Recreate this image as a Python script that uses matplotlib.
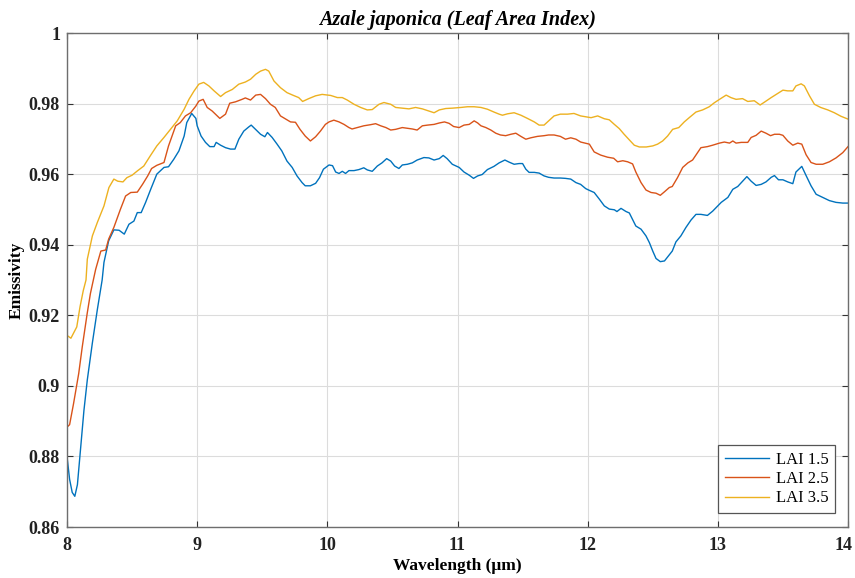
import matplotlib
matplotlib.use("Agg")
import matplotlib.pyplot as plt
from matplotlib.transforms import ScaledTranslation

# ---------------- data ----------------
wl_15 = [8.0, 8.02, 8.04, 8.06, 8.08, 8.105, 8.13, 8.156, 8.195, 8.233, 8.27, 8.284, 8.32, 8.36, 8.40, 8.44,
         8.476, 8.514, 8.54, 8.57, 8.604, 8.643, 8.69, 8.745, 8.78, 8.82, 8.86, 8.90, 8.92, 8.958, 8.99,
         9.0, 9.03, 9.064, 9.097, 9.13, 9.146, 9.18, 9.218, 9.256, 9.29, 9.32, 9.358, 9.397, 9.415, 9.448,
         9.487, 9.52, 9.54, 9.576, 9.614, 9.65, 9.69, 9.73, 9.767, 9.806, 9.83, 9.87, 9.91, 9.94, 9.97,
         10.013, 10.04, 10.064, 10.09, 10.115, 10.14, 10.166, 10.205, 10.243, 10.28, 10.307, 10.345,
         10.384, 10.42, 10.456, 10.487, 10.517, 10.55, 10.576, 10.615, 10.653, 10.69, 10.742, 10.78,
         10.82, 10.86, 10.89, 10.92, 10.96, 11.013, 11.05, 11.09, 11.123, 11.155, 11.19, 11.23, 11.28,
         11.32, 11.364, 11.397, 11.435, 11.473, 11.5, 11.525, 11.55, 11.59, 11.627, 11.665, 11.70,
         11.742, 11.79, 11.83, 11.87, 11.91, 11.946, 11.985, 12.013, 12.05, 12.09, 12.128, 12.166,
         12.205, 12.225, 12.256, 12.295, 12.32, 12.37, 12.41, 12.448, 12.474, 12.5, 12.525, 12.558,
         12.59, 12.627, 12.65, 12.678, 12.716, 12.755, 12.794, 12.832, 12.87, 12.92, 12.96, 13.026,
         13.077, 13.115, 13.153, 13.19, 13.223, 13.256, 13.294, 13.333, 13.37, 13.41, 13.435, 13.466,
         13.5, 13.537, 13.576, 13.6, 13.645, 13.678, 13.716, 13.755, 13.806, 13.857, 13.908, 13.96, 14.0]
eps_15 = [0.8800, 0.8735, 0.8698, 0.8687, 0.8720, 0.8826, 0.8930, 0.9017, 0.9122, 0.9216, 0.9300, 0.9350,
          0.9411, 0.9442, 0.9441, 0.9430, 0.9458, 0.9467, 0.9491, 0.9491, 0.9520, 0.9557, 0.9600, 0.9619,
          0.9621, 0.9642, 0.9666, 0.9708, 0.9746, 0.9772, 0.9758, 0.9737, 0.9708, 0.9690, 0.9678, 0.9678,
          0.9690, 0.9682, 0.9675, 0.9671, 0.9671, 0.9699, 0.9722, 0.9734, 0.9739, 0.9727, 0.9713, 0.9706,
          0.9718, 0.9704, 0.9685, 0.9666, 0.9637, 0.9619, 0.9595, 0.9576, 0.9567, 0.9567, 0.9574, 0.9590,
          0.9614, 0.9626, 0.9624, 0.9606, 0.9602, 0.9608, 0.9602, 0.9610, 0.9610, 0.9613, 0.9618, 0.9612,
          0.9608, 0.9623, 0.9632, 0.9644, 0.9637, 0.9623, 0.9616, 0.9626, 0.9628, 0.9632, 0.9640, 0.9647,
          0.9646, 0.9640, 0.9644, 0.9653, 0.9644, 0.9628, 0.9619, 0.9606, 0.9597, 0.9588, 0.9595, 0.9599,
          0.9613, 0.9622, 0.9632, 0.9640, 0.9634, 0.9628, 0.9630, 0.9630, 0.9614, 0.9605, 0.9605, 0.9603,
          0.9595, 0.9591, 0.9589, 0.9589, 0.9588, 0.9586, 0.9576, 0.9571, 0.9559, 0.9554, 0.9548, 0.9529,
          0.9510, 0.9501, 0.9499, 0.9494, 0.9503, 0.9494, 0.9490, 0.9453, 0.9444, 0.9425, 0.9406, 0.9382,
          0.9361, 0.9352, 0.9354, 0.9371, 0.9382, 0.9408, 0.9425, 0.9449, 0.9470, 0.9486, 0.9486, 0.9483,
          0.9495, 0.9520, 0.9534, 0.9557, 0.9565, 0.9580, 0.9593, 0.9580, 0.9568, 0.9571, 0.9578, 0.9591,
          0.9596, 0.9584, 0.9584, 0.9578, 0.9573, 0.9606, 0.9622, 0.9596, 0.9567, 0.9543, 0.9534, 0.9525,
          0.9520, 0.9518, 0.9518]

wl_25 = [8.0, 8.02, 8.05, 8.09, 8.117, 8.155, 8.18, 8.22, 8.26, 8.297, 8.32, 8.36, 8.41, 8.45, 8.49,
         8.54, 8.58, 8.62, 8.65, 8.69, 8.745, 8.78, 8.835, 8.87, 8.91, 8.95, 8.99, 9.013, 9.046, 9.077,
         9.115, 9.14, 9.174, 9.218, 9.25, 9.295, 9.345, 9.37, 9.41, 9.45, 9.487, 9.525, 9.563, 9.60,
         9.64, 9.68, 9.717, 9.755, 9.79, 9.83, 9.87, 9.91, 9.947, 9.985, 10.013, 10.05, 10.09, 10.128,
         10.166, 10.19, 10.23, 10.28, 10.33, 10.371, 10.41, 10.45, 10.487, 10.525, 10.576, 10.615,
         10.653, 10.69, 10.73, 10.77, 10.82, 10.86, 10.9, 10.935, 10.97, 11.013, 11.05, 11.09, 11.128,
         11.155, 11.18, 11.218, 11.256, 11.294, 11.33, 11.37, 11.41, 11.448, 11.487, 11.525, 11.563,
         11.614, 11.665, 11.70, 11.742, 11.79, 11.83, 11.87, 11.91, 11.946, 12.013, 12.05, 12.1,
         12.153, 12.2, 12.23, 12.27, 12.307, 12.345, 12.37, 12.41, 12.448, 12.487, 12.525, 12.558,
         12.59, 12.627, 12.65, 12.69, 12.73, 12.77, 12.806, 12.845, 12.87, 12.92, 12.96, 13.013,
         13.05, 13.09, 13.115, 13.14, 13.18, 13.23, 13.256, 13.294, 13.333, 13.37, 13.405, 13.435,
         13.473, 13.5, 13.537, 13.576, 13.614, 13.645, 13.678, 13.716, 13.755, 13.806, 13.857, 13.908,
         13.96, 14.0]
eps_25 = [0.8883, 0.8890, 0.8949, 0.9035, 0.9110, 0.9205, 0.9262, 0.9330, 0.9382, 0.9385, 0.9416, 0.9449,
          0.9500, 0.9538, 0.9548, 0.9549, 0.9571, 0.9595, 0.9616, 0.9625, 0.9633, 0.9680, 0.9737, 0.9746,
          0.9765, 0.9774, 0.9793, 0.9807, 0.9812, 0.9789, 0.9779, 0.9770, 0.9758, 0.9770, 0.9801, 0.9805,
          0.9812, 0.9816, 0.9810, 0.9824, 0.9826, 0.9814, 0.9798, 0.9789, 0.9765, 0.9756, 0.9748, 0.9747,
          0.9727, 0.9708, 0.9694, 0.9706, 0.9722, 0.9741, 0.9748, 0.9753, 0.9748, 0.9741, 0.9732, 0.9728,
          0.9732, 0.9737, 0.9740, 0.9743, 0.9737, 0.9732, 0.9725, 0.9727, 0.9732, 0.9730, 0.9728, 0.9725,
          0.9737, 0.9739, 0.9741, 0.9745, 0.9748, 0.9744, 0.9735, 0.9732, 0.9739, 0.9741, 0.9751, 0.9745,
          0.9737, 0.9732, 0.9725, 0.9716, 0.9711, 0.9709, 0.9713, 0.9716, 0.9707, 0.9699, 0.9703, 0.9707,
          0.9709, 0.9711, 0.9711, 0.9707, 0.9699, 0.9703, 0.9699, 0.9691, 0.9685, 0.9663, 0.9654, 0.9648,
          0.9645, 0.9635, 0.9638, 0.9635, 0.9629, 0.9606, 0.9576, 0.9555, 0.9548, 0.9546, 0.9540, 0.9550,
          0.9562, 0.9565, 0.9590, 0.9619, 0.9632, 0.9640, 0.9661, 0.9675, 0.9678, 0.9682, 0.9688, 0.9691,
          0.9688, 0.9694, 0.9688, 0.9690, 0.9690, 0.9704, 0.9710, 0.9722, 0.9716, 0.9709, 0.9713, 0.9713,
          0.9710, 0.9694, 0.9682, 0.9688, 0.9685, 0.9655, 0.9633, 0.9628, 0.9628, 0.9635, 0.9646, 0.9661,
          0.9678]

wl_35 = [8.0, 8.03, 8.075, 8.1, 8.125, 8.146, 8.156, 8.195, 8.233, 8.284, 8.322, 8.36, 8.39, 8.43, 8.46,
         8.50, 8.54, 8.59, 8.64, 8.69, 8.745, 8.795, 8.847, 8.90, 8.937, 8.975, 9.013, 9.05, 9.09, 9.13,
         9.18, 9.218, 9.27, 9.32, 9.37, 9.41, 9.45, 9.487, 9.525, 9.55, 9.59, 9.64, 9.69, 9.74, 9.78,
         9.81, 9.857, 9.91, 9.96, 10.026, 10.077, 10.115, 10.153, 10.205, 10.256, 10.307, 10.345,
         10.397, 10.435, 10.487, 10.525, 10.576, 10.627, 10.678, 10.73, 10.78, 10.82, 10.86, 10.91,
         10.96, 11.026, 11.077, 11.128, 11.18, 11.23, 11.28, 11.32, 11.345, 11.385, 11.435, 11.487,
         11.537, 11.59, 11.627, 11.665, 11.70, 11.742, 11.79, 11.845, 11.895, 11.946, 12.026, 12.077,
         12.128, 12.166, 12.205, 12.243, 12.28, 12.32, 12.358, 12.397, 12.45, 12.5, 12.537, 12.576,
         12.614, 12.653, 12.70, 12.742, 12.78, 12.832, 12.883, 12.934, 12.972, 13.013, 13.064, 13.1,
         13.14, 13.19, 13.23, 13.28, 13.325, 13.358, 13.41, 13.448, 13.5, 13.537, 13.576, 13.6, 13.64,
         13.665, 13.704, 13.742, 13.79, 13.845, 13.895, 13.946, 14.0]
eps_35 = [0.9143, 0.9135, 0.9167, 0.9224, 0.9270, 0.9300, 0.9359, 0.9425, 0.9463, 0.9510, 0.9562, 0.9586,
          0.9580, 0.9578, 0.9590, 0.9597, 0.9609, 0.9623, 0.9652, 0.9680, 0.9704, 0.9727, 0.9751, 0.9784,
          0.9812, 0.9835, 0.9855, 0.9860, 0.9850, 0.9836, 0.9820, 0.9831, 0.9840, 0.9855, 0.9861, 0.9869,
          0.9883, 0.9892, 0.9897, 0.9892, 0.9864, 0.9845, 0.9831, 0.9823, 0.9817, 0.9806, 0.9814, 0.9822,
          0.9826, 0.9823, 0.9817, 0.9817, 0.9810, 0.9798, 0.9789, 0.9782, 0.9783, 0.9798, 0.9803, 0.9798,
          0.9789, 0.9787, 0.9785, 0.9789, 0.9785, 0.9779, 0.9774, 0.9782, 0.9786, 0.9787, 0.9789, 0.9791,
          0.9791, 0.9789, 0.9784, 0.9776, 0.9770, 0.9767, 0.9771, 0.9774, 0.9767, 0.9758, 0.9748, 0.9739,
          0.9739, 0.9751, 0.9765, 0.9770, 0.9770, 0.9772, 0.9765, 0.9760, 0.9765, 0.9757, 0.9754, 0.9741,
          0.9729, 0.9713, 0.9697, 0.9682, 0.9677, 0.9677, 0.9680, 0.9685, 0.9694, 0.9708, 0.9727, 0.9732,
          0.9748, 0.9760, 0.9776, 0.9782, 0.9791, 0.9802, 0.9812, 0.9824, 0.9817, 0.9812, 0.9814, 0.9806,
          0.9808, 0.9796, 0.9804, 0.9817, 0.9826, 0.9838, 0.9836, 0.9836, 0.9850, 0.9856, 0.9850, 0.9822,
          0.9798, 0.9789, 0.9782, 0.9774, 0.9764, 0.9756]

series_labels = ["LAI 1.5", "LAI 2.5", "LAI 3.5"]
x_ticks = [8, 9, 10, 11, 12, 13, 14]
y_ticks = [0.86, 0.88, 0.90, 0.92, 0.94, 0.96, 0.98, 1.00]
y_tick_labels = ["0.86", "0.88", "0.9", "0.92", "0.94", "0.96", "0.98", "1"]

# ---------------- figure ----------------
W, H = 855, 578
fig = plt.figure(figsize=(W / 100, H / 100), dpi=100)
L, R, T, B = 67, 848, 33, 527
ax = fig.add_axes([L / W, 1 - B / H, (R - L) / W, (B - T) / H])

serif = ["Liberation Serif", "DejaVu Serif"]
colors = ["#0072BD", "#D95319", "#EDB120"]

for xs, ys, c, lab in zip([wl_15, wl_25, wl_35], [eps_15, eps_25, eps_35], colors, series_labels):
    ax.plot(xs, ys, color=c, lw=1.0, label=lab)

ax.set_xlim(8, 14)
ax.set_ylim(0.86, 1.0)
ax.set_xticks(x_ticks)
ax.set_yticks(y_ticks)
ax.set_xticklabels([str(t) for t in x_ticks], fontfamily=serif, fontweight="bold", fontsize=13)
ax.set_yticklabels(y_tick_labels, fontfamily=serif, fontweight="bold", fontsize=13)
ax.grid(True, color="#dcdcdc", lw=0.8)
ax.set_axisbelow(True)
ax.tick_params(direction="in", length=4, width=0.8, color="#333333", top=True, right=True,
               labelcolor="#222222")
ax.tick_params(axis="x", pad=7)
ax.tick_params(axis="y", pad=5)
for s in ax.spines.values():
    s.set_color("#6e6e6e")
    s.set_linewidth(1.0)

# keep the last x tick label inside the figure edge
last = ax.get_xticklabels()[-1]
last.set_transform(last.get_transform() + ScaledTranslation(-4 / 100, 0, fig.dpi_scale_trans))

ax.set_title("Azale japonica (Leaf Area Index)", fontfamily=serif, fontweight="bold",
             fontstyle="italic", fontsize=14.5, pad=6)
ax.set_xlabel("Wavelength (\u03bcm)", fontfamily=serif, fontweight="bold", fontsize=12.5, labelpad=3)
ax.set_ylabel("Emissivity", fontfamily=serif, fontweight="bold", fontsize=12.5, labelpad=3)

leg = ax.legend(loc="lower right", bbox_to_anchor=(1 - 13 / (R - L), 14 / (B - T)),
                borderaxespad=0, fancybox=False, framealpha=1, edgecolor="#555555",
                prop={"family": serif, "size": 12}, handlelength=2.65, handletextpad=0.4,
                labelspacing=0.2, borderpad=0.4)
leg.get_frame().set_linewidth(0.9)

fig.savefig("out.png", dpi=100)
